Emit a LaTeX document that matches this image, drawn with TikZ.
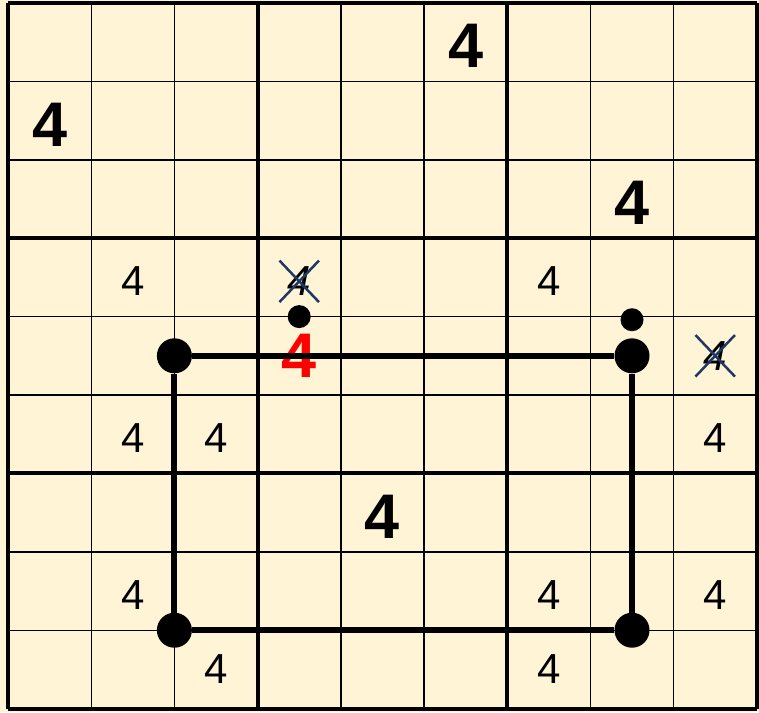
\documentclass[tikz,border=0pt]{standalone}
\usepackage{fontspec}
\setmainfont{Liberation Sans}
\usetikzlibrary{shapes.misc}
\definecolor{paper}{RGB}{255,244,214}
\definecolor{crossblue}{RGB}{31,56,100}
\begin{document}
\begin{tikzpicture}[x=83.2pt, y=-78.4pt,
    given/.style={font=\fontsize{63}{63}\selectfont\bfseries, inner sep=0pt},
    cand/.style={font=\fontsize{42}{42}\selectfont, inner sep=0pt},
    gone/.style={cand, font=\fontsize{42}{42}\selectfont\itshape},
    cross/.style={cross out, draw=crossblue, line width=2.5pt, minimum width=37pt, minimum height=39pt},
    bigdot/.style={circle, fill=black, inner sep=0pt, minimum size=35pt},
    smalldot/.style={circle, fill=black, inner sep=0pt, minimum size=23pt},
    thin/.style={line width=1.4pt},
    box/.style={line width=4pt}]
    \useasboundingbox[fill=paper] (-8pt,3pt) rectangle (751pt,-709pt);

    % Gitter
    \foreach \i in {1,2,4,5,7,8} {
        \draw[thin] (\i,0) -- (\i,9);
        \draw[thin] (0,\i) -- (9,\i);
    }
    \foreach \i in {0,3,6,9} {
        \draw[box] (\i,0) -- (\i,9);
        \draw[box] (0,\i) -- (9,\i);
    }

    % vorgegebene Ziffern
    \node[given] (g61) at (5.5,0.55) {4};
    \node[given] (g12) at (0.5,1.55) {4};
    \node[given] (g83) at (7.5,2.55) {4};
    \node[given] (g57) at (4.5,6.55) {4};
    \node[given, red] (g45) at (3.5,4.5) {4};

    % Kandidaten
    \node[cand] (c24) at (1.5,3.55) {4};
    \node[cand] (c74) at (6.5,3.55) {4};
    \node[cand] (c26) at (1.5,5.55) {4};
    \node[cand] (c36) at (2.5,5.55) {4};
    \node[cand] (c96) at (8.5,5.55) {4};
    \node[cand] (c28) at (1.5,7.55) {4};
    \node[cand] (c78) at (6.5,7.55) {4};
    \node[cand] (c98) at (8.5,7.55) {4};
    \node[cand] (c39) at (2.5,8.5) {4};
    \node[cand] (c79) at (6.5,8.5) {4};

    % gestrichene Kandidaten
    \node[gone] (x44) at (3.5,3.55) {4};
    \node[cross] at (x44) {};
    \node[gone] (x95) at (8.5,4.5) {4};
    \node[cross] at (x95) {};

    % Rechteck
    \node[smalldot] (s1) at (3.5,4) {};
    \node[smalldot] (s2) at (7.5,4.04) {};
    \node[bigdot] (a) at (2,4.5) {};
    \node[bigdot] (b) at (7.5,4.5) {};
    \node[bigdot] (c) at (7.5,8) {};
    \node[bigdot] (d) at (2,8) {};
    \draw[line width=6pt] (a) -- (b) (b) -- (c) (c) -- (d) (d) -- (a);
\end{tikzpicture}
\end{document}
